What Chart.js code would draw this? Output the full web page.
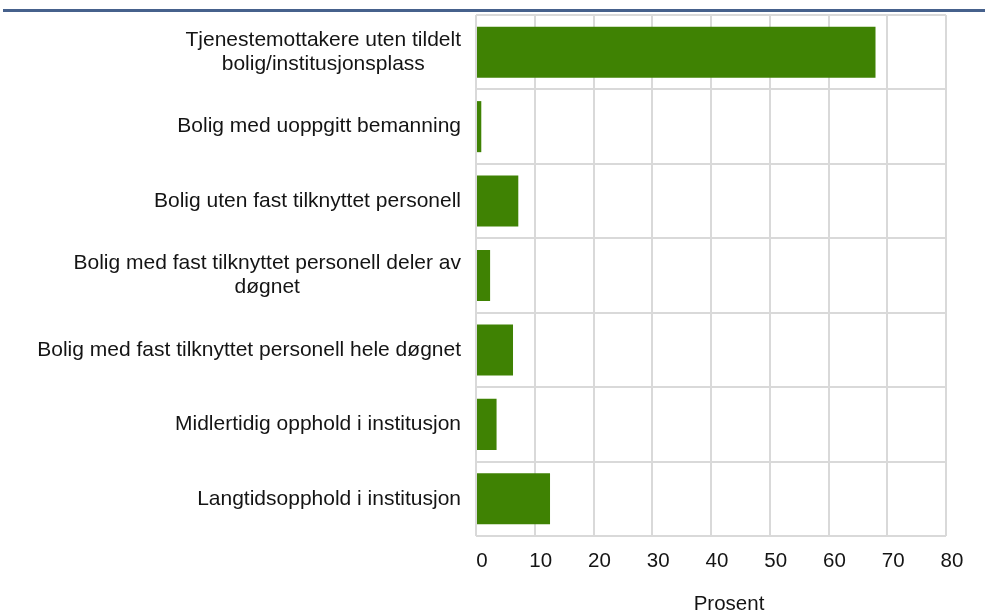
<!DOCTYPE html>
<html>
<head>
<meta charset="utf-8">
<script src="https://cdn.jsdelivr.net/npm/chart.js@4/dist/chart.umd.min.js"></script>
<style>
  html, body { margin: 0; padding: 0; background: #fff; }
  #wrap { width: 985px; height: 613px; position: relative; }
</style>
</head>
<body>
<div id="wrap"><canvas id="c" width="985" height="613"></canvas></div>
<script>
const categories = [
  ["Tjenestemottakere uten tildelt", "bolig/institusjonsplass"],
  ["Bolig med uoppgitt bemanning"],
  ["Bolig uten fast tilknyttet personell"],
  ["Bolig med fast tilknyttet personell deler av", "døgnet"],
  ["Bolig med fast tilknyttet personell hele døgnet"],
  ["Midlertidig opphold i institusjon"],
  ["Langtidsopphold i institusjon"]
];
const values = [68.0, 0.9, 7.2, 2.4, 6.3, 3.5, 12.6];
const xTicks = [0, 10, 20, 30, 40, 50, 60, 70, 80];
const xTitle = "Prosent";

const FONT = "'Liberation Sans', Arial, sans-serif";

const decorPlugin = {
  id: 'decor',
  beforeDraw(chart) {
    const ctx = chart.ctx;
    ctx.save();
    ctx.fillStyle = '#46618c';
    ctx.fillRect(3, 9, chart.width - 3, 3);
    ctx.restore();
  },
  afterDraw(chart) {
    const ctx = chart.ctx;
    const ys = chart.scales.y;
    const xs = chart.scales.x;
    const area = chart.chartArea;
    ctx.save();
    ctx.font = '21px ' + FONT;
    ctx.fillStyle = '#141414';
    ctx.textBaseline = 'middle';
    ctx.textAlign = 'center';
    const lh = 24;
    const right = area.left - 15;
    categories.forEach((lines, i) => {
      const cy = ys.getPixelForTick(i);
      const w = Math.max(...lines.map(l => ctx.measureText(l).width));
      const cx = right - w / 2;
      const y0 = cy - (lines.length - 1) * lh / 2;
      lines.forEach((l, j) => ctx.fillText(l, cx, y0 + j * lh));
    });
    ctx.font = '20.5px ' + FONT;
    xTicks.forEach(v => {
      ctx.fillText(String(v), xs.getPixelForValue(v) + 6, area.bottom + 25);
    });
    ctx.fillText(xTitle, (area.left + area.right) / 2 + 18, 604);
    ctx.restore();
  }
};

new Chart(document.getElementById('c'), {
  type: 'bar',
  data: {
    labels: categories,
    datasets: [{
      data: values,
      backgroundColor: '#3f8203',
      borderWidth: 0,
      barPercentage: 0.686,
      categoryPercentage: 1
    }]
  },
  options: {
    indexAxis: 'y',
    responsive: false,
    animation: false,
    layout: { padding: { top: 15, right: 39, left: 0, bottom: 0 } },
    plugins: { legend: { display: false }, tooltip: { enabled: false } },
    scales: {
      x: {
        min: 0, max: 80,
        afterBuildTicks(scale) { scale.ticks = xTicks.map(v => ({ value: v })); },
        grid: { color: '#d9d9d9', lineWidth: 2, drawTicks: false },
        border: { display: false },
        ticks: { display: false },
        afterFit(scale) { scale.height = 77; }
      },
      y: {
        grid: { color: '#d9d9d9', lineWidth: 2, drawTicks: false, offset: true },
        border: { display: false },
        ticks: { display: false },
        afterFit(scale) { scale.width = 476; }
      }
    }
  },
  plugins: [decorPlugin]
});
</script>
</body>
</html>
